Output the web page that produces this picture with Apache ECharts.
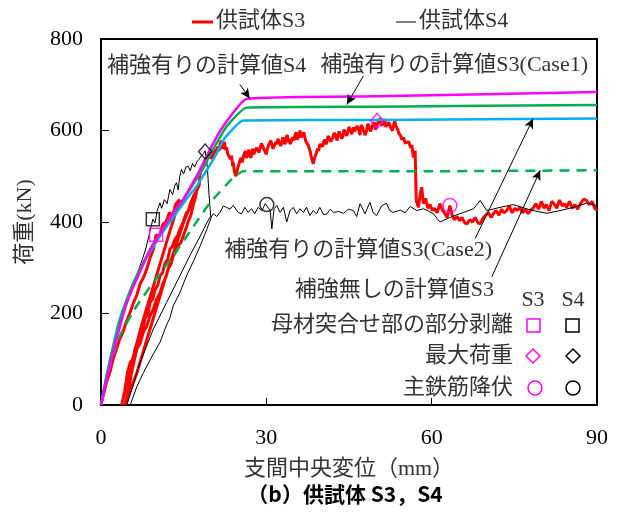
<!DOCTYPE html>
<html>
<head>
<meta charset="utf-8">
<script src="https://cdn.jsdelivr.net/npm/echarts@6/dist/echarts.min.js"></script>
<style>
  html, body { margin: 0; padding: 0; background: #fff; }
  #chart { width: 617px; height: 515px; }
</style>
</head>
<body>
<div id="chart"></div>
<script>
  // 軸の目盛
  const xTicks = [0, 30, 60, 90];
  const yTicks = [0, 200, 400, 600, 800];

  // 供試体S3 (変位mm, 荷重kN)
  const s3Data = [
    [0, 0], [0.5, 25], [1.0, 50], [1.6, 71], [2.2, 100], [2.8, 122], [3.4, 144], [4.0, 160], [4.6, 182],
    [5.2, 200], [5.9, 224], [6.5, 240], [7.1, 265], [7.7, 278], [8.3, 297], [8.9, 322], [9.5, 340],
    [10.0, 372], [10.6, 368], [11.2, 395], [11.8, 400], [12.4, 420], [13.0, 415], [13.6, 440], [14.3, 449],
    [12.5, 380], [10.0, 280], [7.5, 180], [5.5, 90], [3.75, 0],
    [4.3, 30], [4.8, 70], [5.3, 93], [5.8, 100], [6.2, 125], [6.6, 130], [7.1, 159], [7.6, 165], [8.0, 190],
    [8.5, 198], [8.9, 224], [9.4, 232], [9.8, 252], [10.3, 262], [10.7, 282], [11.2, 290], [11.6, 310],
    [12.1, 318], [12.5, 340], [13.0, 348], [13.4, 362], [13.9, 370], [14.3, 384], [14.9, 400], [15.5, 420],
    [15.9, 425], [16.2, 440], [16.5, 448], [16.8, 457], [17.4, 470],
    [15.0, 400], [12.0, 290], [9.0, 170], [6.5, 70], [4.35, 0],
    [5.0, 35], [5.7, 80], [6.5, 122], [7.1, 135], [7.7, 160], [8.3, 172], [8.9, 195], [9.5, 210], [10.1, 232],
    [10.7, 245], [11.3, 268], [11.8, 280], [12.2, 298], [12.7, 308], [13.1, 326], [13.6, 335], [14.0, 348],
    [14.5, 355], [14.9, 369], [15.4, 385], [15.8, 400], [16.3, 415], [16.8, 440], [17.1, 452], [17.4, 470],
    [17.8, 480], [18.0, 508], [18.6, 520], [18.9, 527],
    [19.4, 540], [19.6, 552], [19.8, 549], [20.0, 538], [20.3, 545], [20.5, 560], [20.7, 556], [20.9, 548],
    [21.2, 565], [21.4, 555], [21.6, 570], [21.8, 578], [22.0, 560], [22.2, 566], [22.4, 575], [22.6, 558],
    [22.8, 563], [23.0, 548], [23.3, 552], [23.5, 538], [23.7, 545], [23.9, 522], [24.0, 530], [24.2, 510],
    [24.3, 512], [24.5, 500], [24.6, 505], [24.8, 518], [25.0, 525], [25.2, 535], [25.4, 540], [25.6, 530],
    [25.8, 541], [26.0, 550], [26.2, 555], [26.4, 540], [26.6, 545], [26.8, 558], [27.0, 549], [27.2, 540],
    [27.5, 560], [27.7, 548], [28.0, 552], [28.2, 562], [28.5, 565], [28.7, 552], [28.9, 563], [29.1, 572],
    [29.4, 570], [29.6, 558], [29.8, 556], [30.0, 548], [30.1, 556], [30.4, 568], [30.6, 565], [30.8, 578],
    [31.0, 575], [31.2, 560], [31.5, 562], [31.7, 575], [31.9, 570], [32.1, 582], [32.4, 580], [32.6, 566],
    [32.8, 572], [33.0, 585], [33.1, 578], [33.4, 570], [33.6, 585], [33.8, 590], [34.0, 575], [34.2, 582],
    [34.3, 570], [34.6, 578], [34.8, 585], [35.0, 578], [35.2, 590], [35.4, 596], [35.6, 580], [35.9, 588],
    [36.1, 600], [36.3, 585], [36.6, 590], [36.8, 596], [37.0, 585], [37.2, 575], [37.3, 578], [37.6, 568],
    [37.8, 560], [38.0, 552], [38.2, 540], [38.4, 532], [38.5, 527], [38.7, 538], [38.9, 545], [39.1, 552],
    [39.3, 560], [39.5, 555], [39.7, 570], [40.0, 572], [40.2, 565], [40.4, 575], [40.6, 580], [40.8, 570],
    [41.0, 575], [41.2, 588], [41.5, 585], [41.7, 576], [42.1, 585], [42.3, 595], [42.6, 590], [42.8, 578],
    [43.0, 580], [43.2, 598], [43.4, 595], [43.7, 582], [43.9, 588], [44.1, 602], [44.3, 600], [44.6, 588],
    [44.8, 592], [45.0, 608], [45.2, 605], [45.5, 592], [45.8, 607], [46.0, 598], [46.3, 595], [46.5, 610],
    [46.8, 600], [47.0, 590], [47.2, 612], [47.5, 605], [47.7, 598], [47.9, 590], [48.2, 599], [48.4, 615],
    [48.6, 610], [48.9, 598], [49.1, 605], [49.3, 612], [49.6, 618], [49.8, 602], [50.1, 612], [50.3, 620],
    [50.6, 626], [50.8, 615], [51.0, 610], [51.3, 625], [51.5, 620], [51.7, 608], [51.9, 605], [52.2, 618],
    [52.4, 615], [52.6, 605], [52.9, 600], [53.1, 612], [53.3, 622], [53.5, 610], [53.7, 614], [53.9, 600],
    [54.0, 595], [54.2, 598], [54.3, 590], [54.6, 580], [54.9, 585], [55.2, 572], [55.5, 570], [55.8, 576],
    [56.0, 570], [56.2, 562], [56.4, 568], [56.7, 541], [57.0, 556],
    [57.2, 447], [57.6, 432], [57.9, 460], [58.2, 476],
    [58.5, 440], [58.9, 452], [59.3, 430], [59.7, 438], [60.1, 425], [60.5, 430], [61.0, 420], [61.5, 440],
    [62.0, 425], [62.4, 418], [62.8, 410], [63.3, 436], [63.7, 415], [64.1, 405], [64.6, 412], [65.1, 403],
    [65.5, 410], [66.0, 398], [66.4, 396], [66.9, 405], [67.4, 400], [67.9, 410], [68.4, 398], [68.8, 396],
    [69.3, 408], [69.8, 415], [70.3, 420], [70.8, 410], [71.2, 418], [71.7, 425], [72.2, 415], [72.7, 428],
    [73.1, 420], [73.6, 425], [74.1, 435], [74.6, 420], [75.1, 430], [75.5, 425], [76.0, 432], [76.5, 420],
    [77.0, 428], [77.5, 418], [77.9, 425], [78.4, 430], [78.9, 440], [79.4, 428], [79.9, 445], [80.4, 430],
    [80.8, 438], [81.3, 425], [81.8, 445], [82.2, 440], [82.7, 430], [83.2, 448], [83.7, 435], [84.1, 440],
    [84.5, 432], [85.0, 445], [85.5, 430], [86.0, 438], [86.5, 428], [87.0, 440], [87.6, 450], [88.1, 447],
    [88.6, 438], [89.1, 445], [89.6, 430], [90, 425]
  ];

  // 供試体S4 (変位mm, 荷重kN)
  const s4Data = [
    [0, 0], [0.5, 35], [1.0, 62], [1.6, 95], [2.2, 125], [2.8, 152], [3.4, 180], [4.0, 200], [4.7, 225],
    [5.4, 250], [6.1, 272], [6.8, 295], [7.5, 318], [8.2, 345], [8.8, 375], [9.4, 406], [9.8, 398],
    [10.2, 425], [10.7, 442], [11.0, 430], [11.5, 449], [12.0, 440], [12.5, 471], [13.0, 460], [13.4, 480],
    [13.7, 486], [14.0, 470], [14.3, 500], [14.6, 515], [15.0, 505], [15.4, 520], [15.8, 522], [16.2, 512],
    [16.6, 528], [17.0, 520], [17.4, 532], [17.8, 537], [18.2, 545], [18.6, 549], [18.9, 556],
    [19.3, 520], [19.6, 460], [19.9, 413],
    [19.2, 398], [18.0, 369], [16.1, 326], [14.3, 282], [11.9, 224], [9.5, 166], [7.1, 93], [4.7, 0],
    [5.3, 0], [6.5, 40], [7.7, 71], [9.2, 105], [10.7, 137], [11.9, 175], [12.5, 190], [13.1, 217],
    [14.3, 245], [15.5, 282], [16.8, 315], [18.0, 348], [19.2, 384], [20.1, 413],
    [20.4, 418], [21.0, 412], [21.6, 421], [22.2, 435], [22.8, 432], [23.4, 428], [24.0, 436], [24.9, 421],
    [25.5, 418], [26.1, 432], [26.7, 421], [27.3, 429], [27.9, 418], [28.5, 432], [29.2, 425], [29.8, 440],
    [30.7, 425], [31.0, 385], [31.4, 429], [31.9, 436], [32.5, 421], [33.1, 432], [33.7, 400], [34.3, 425],
    [34.9, 432], [35.5, 418], [36.1, 429], [36.7, 421], [37.3, 432], [37.9, 414], [38.5, 425], [39.1, 418],
    [39.7, 432], [40.4, 416], [41.0, 418], [41.6, 428], [42.2, 421], [43.1, 423], [44.0, 419], [44.9, 428],
    [45.8, 425], [46.4, 412], [47.0, 440], [47.9, 418], [48.8, 443], [49.4, 420], [50.0, 414], [50.9, 435],
    [51.8, 441], [52.4, 425], [53.0, 421], [54.3, 426], [55.2, 420], [56.1, 434], [57.3, 425], [58.5, 429],
    [59.4, 424], [60.3, 418], [61.5, 400], [63.3, 410], [65.1, 418], [67.6, 429], [68.8, 447], [70.0, 425],
    [72.4, 432], [74.8, 438], [77.2, 429], [78.4, 425], [80.9, 419], [83.3, 425], [85.7, 432], [88.1, 441],
    [90, 436]
  ];

  // 計算値
  const calcS4 = [
    [0, 0], [1, 55], [2.2, 115], [3.4, 170], [4.6, 220], [5.9, 260], [7.4, 300], [8.9, 340], [10.4, 370],
    [11.9, 398], [13.4, 425], [14.9, 449], [16.5, 482], [18, 515], [20.4, 573], [22.8, 620], [26.4, 669],
    [50, 675], [90, 684]
  ];
  const calcS3Case1 = [
    [0, 0], [1, 62], [2.2, 125], [3.4, 182], [4.6, 228], [5.9, 268], [7.4, 305], [8.9, 338], [10.4, 368],
    [11.9, 395], [13.4, 422], [14.9, 448], [16.5, 478], [18, 508], [20.4, 560], [22.8, 609], [26.4, 650],
    [50, 652], [90, 656]
  ];
  const calcS3Case2 = [
    [0, 0], [0.5, 33], [1, 64], [1.6, 97], [2.2, 129], [2.8, 160], [3.4, 188], [4.3, 218], [5.3, 246],
    [6.5, 280], [7.7, 311], [9.2, 340], [10.7, 369], [12.2, 395], [13.7, 420], [15.5, 450], [17.4, 479],
    [18.9, 508], [20.4, 537], [22.5, 584], [25.8, 622], [50, 623], [90, 626]
  ];
  const calcS3None = [
    [0, 0], [1, 55], [3.1, 144], [6.5, 217], [9.5, 268], [13.1, 326], [16.8, 391], [19.8, 442], [24, 497],
    [25.8, 511], [60, 511], [90, 513]
  ];

  // 特徴点 [変位, 荷重]
  const s3Peel = [[10.0, 372]];
  const s4Peel = [[9.4, 406]];
  const s3Max = [[50.1, 621]];
  const s4Max = [[18.9, 554]];
  const s3Yield = [[63.3, 436]];
  const s4Yield = [[30.1, 438]];

  const chart = echarts.init(document.getElementById('chart'));

  const serifJa = "'Liberation Serif', 'Noto Sans CJK JP', serif";

  const markerSeries = (name, data, symbol, color, size) => ({
    name: name,
    type: 'scatter',
    data: data,
    symbol: symbol,
    symbolSize: size,
    itemStyle: { color: 'rgba(0,0,0,0)', borderColor: color, borderWidth: 1.5 },
    z: 5,
    silent: true
  });

  const arrow = (from, to) => [
    { coord: from, symbol: 'none' },
    { coord: to, symbol: 'arrow' }
  ];

  const label = (text, x, y, align) => ({
    type: 'text',
    x: x,
    y: y,
    style: {
      text: text,
      fontSize: 22,
      fontFamily: serifJa,
      fill: '#333',
      align: align || 'left',
      verticalAlign: 'middle'
    }
  });

  const calcLine = (name, data, color, type) => ({
    name: name,
    type: 'line',
    data: data,
    symbol: 'none',
    smooth: 0.15,
    lineStyle: { color: color, width: 2.5, type: type || 'solid' }
  });

  const option = {
    animation: false,
    backgroundColor: '#fff',
    grid: {
      left: 101,
      right: 20,
      top: 39,
      bottom: 110,
      show: true,
      borderColor: '#000',
      borderWidth: 2
    },
    xAxis: {
      type: 'value',
      min: xTicks[0],
      max: xTicks[xTicks.length - 1],
      interval: 30,
      name: '支間中央変位（mm）',
      nameLocation: 'middle',
      nameGap: 53,
      nameTextStyle: { fontSize: 22, fontFamily: serifJa, color: '#333' },
      axisLine: { onZero: false, lineStyle: { color: '#000', width: 2 } },
      axisTick: { inside: true, length: 7, lineStyle: { color: '#000' } },
      axisLabel: { fontSize: 22, fontFamily: serifJa, color: '#000', margin: 22 },
      splitLine: { show: false }
    },
    yAxis: {
      type: 'value',
      min: yTicks[0],
      max: yTicks[yTicks.length - 1],
      interval: 200,
      name: '荷重(kN)',
      nameLocation: 'middle',
      nameRotate: 90,
      nameGap: 65,
      nameTextStyle: { fontSize: 22, fontFamily: serifJa, color: '#333' },
      axisLine: { onZero: false, lineStyle: { color: '#000', width: 2 } },
      axisTick: { inside: true, length: 8, lineStyle: { color: '#000' } },
      axisLabel: { fontSize: 22, fontFamily: serifJa, color: '#000', margin: 18 },
      splitLine: { show: false }
    },
    series: [
      {
        name: '供試体S3',
        type: 'line',
        data: s3Data,
        symbol: 'none',
        lineStyle: { color: '#ff0000', width: 3 }
      },
      {
        name: '供試体S4',
        type: 'line',
        data: s4Data,
        symbol: 'none',
        lineStyle: { color: '#000', width: 1 }
      },
      calcLine('補強無しの計算値S3', calcS3None, '#00b050', [10, 7]),
      calcLine('補強有りの計算値S3(Case2)', calcS3Case2, '#00b0f0'),
      calcLine('補強有りの計算値S3(Case1)', calcS3Case1, '#00b050'),
      Object.assign(calcLine('補強有りの計算値S4', calcS4, '#ff00ff'), {
        markLine: {
          silent: true,
          symbolSize: [7, 10],
          label: { show: false },
          lineStyle: { color: '#000', width: 1, type: 'solid' },
          data: [
            arrow([25.2, 701], [27.0, 670]),
            arrow([47.6, 719], [44.6, 657]),
            arrow([67.9, 364], [78.4, 626]),
            arrow([70.9, 280], [79.7, 513])
          ]
        }
      }),
      markerSeries('S3剥離', s3Peel, 'rect', '#ff00ff', 13),
      markerSeries('S4剥離', s4Peel, 'rect', '#000', 13),
      markerSeries('S3最大', s3Max, 'diamond', '#ff00ff', [13, 15]),
      markerSeries('S4最大', s4Max, 'diamond', '#000', [13, 15]),
      markerSeries('S3降伏', s3Yield, 'circle', '#ff00ff', 14),
      markerSeries('S4降伏', s4Yield, 'circle', '#000', 14)
    ],
    graphic: [
      // 凡例
      { type: 'line', shape: { x1: 192, y1: 22, x2: 213, y2: 22 }, style: { stroke: '#ff0000', lineWidth: 3 } },
      label('供試体S3', 216, 21),
      { type: 'line', shape: { x1: 396, y1: 22, x2: 416, y2: 22 }, style: { stroke: '#000', lineWidth: 1 } },
      label('供試体S4', 419, 21),
      // 注記
      label('補強有りの計算値S4', 107, 66),
      label('補強有りの計算値S3(Case1)', 588, 65, 'right'),
      label('補強有りの計算値S3(Case2)', 492, 250, 'right'),
      label('補強無しの計算値S3', 494, 290, 'right'),
      label('S3', 533, 300, 'center'),
      label('S4', 573, 300, 'center'),
      label('母材突合せ部の部分剥離', 513, 325, 'right'),
      label('最大荷重', 513, 356, 'right'),
      label('主鉄筋降伏', 513, 388, 'right'),
      { type: 'rect', shape: { x: 527, y: 319, width: 13, height: 13 }, style: { fill: 'none', stroke: '#ff00ff', lineWidth: 1.5 } },
      { type: 'rect', shape: { x: 566, y: 319, width: 13, height: 13 }, style: { fill: 'none', stroke: '#000', lineWidth: 1.5 } },
      { type: 'polygon', shape: { points: [[533, 349], [540, 356], [533, 363], [526, 356]] }, style: { fill: 'none', stroke: '#ff00ff', lineWidth: 1.5 } },
      { type: 'polygon', shape: { points: [[573, 349], [580, 356], [573, 363], [566, 356]] }, style: { fill: 'none', stroke: '#000', lineWidth: 1.5 } },
      { type: 'circle', shape: { cx: 535, cy: 388, r: 7 }, style: { fill: 'none', stroke: '#ff00ff', lineWidth: 1.5 } },
      { type: 'circle', shape: { cx: 573, cy: 388, r: 7 }, style: { fill: 'none', stroke: '#000', lineWidth: 1.5 } },
      {
        type: 'text',
        x: 345,
        y: 494,
        style: {
          text: '（b）供試体 S3，S4',
          fontSize: 21,
          fontWeight: 'bold',
          fontFamily: "'Noto Sans CJK JP', sans-serif",
          fill: '#000',
          align: 'center',
          verticalAlign: 'middle'
        }
      }
    ]
  };

  chart.setOption(option);
</script>
</body>
</html>
